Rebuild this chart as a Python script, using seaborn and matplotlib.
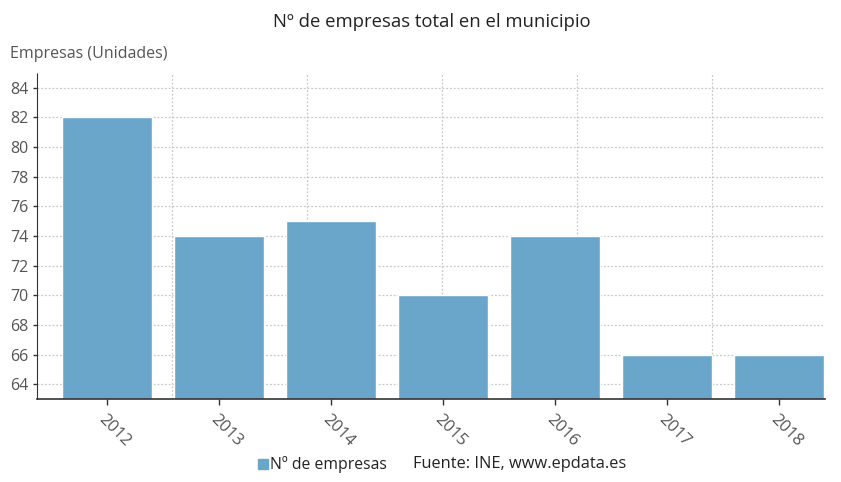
import numpy as np
import pandas as pd
import matplotlib.pyplot as plt
from matplotlib.patches import Rectangle
import seaborn as sns

sns.set_style("white")
plt.rcParams['font.family'] = ['Open Sans', 'DejaVu Sans']

years = ["2012", "2013", "2014", "2015", "2016", "2017", "2018"]
empresas = [82, 74, 75, 70, 74, 66, 66]
y_ticks = [64, 66, 68, 70, 72, 74, 76, 78, 80, 82, 84]

df = pd.DataFrame({"year": years, "empresas": empresas})

bar_color = "#6aa6ca"
text_color = "#555555"

fig = plt.figure(figsize=(8.41, 4.82), dpi=100)
ax = fig.add_axes([0.044, 0.172, 0.937, 0.677])

sns.barplot(data=df, x="year", y="empresas", color=bar_color, width=0.8,
            saturation=1, ax=ax, zorder=2)

ax.set_ylim(63, 85)
ax.set_xlim(-0.625, 6.41)
ax.set_yticks(y_ticks)
ax.set_xlabel("")
ax.set_ylabel("")

# grid: dotted light gray
ax.grid(axis="y", linestyle=(0, (1.5, 1.5)), color="#c8c8c8", linewidth=0.9, zorder=0)
ax.set_xticks(np.arange(-0.625 + 1.205, 6.41, 1.205), minor=True)
ax.grid(axis="x", which="minor", linestyle=(0, (1.5, 1.5)), color="#c8c8c8",
        linewidth=0.9, zorder=0)
ax.tick_params(axis="x", which="minor", length=0)
ax.set_axisbelow(True)

for s in ["top", "right"]:
    ax.spines[s].set_visible(False)
ax.spines["left"].set_linestyle((0, (1, 1)))
ax.spines["left"].set_color("#333333")
ax.spines["bottom"].set_color("#333333")
ax.spines["bottom"].set_linewidth(1.2)

ax.tick_params(axis="x", which="major", length=4, width=1, color="#333333",
               labelsize=12, labelcolor=text_color, pad=5, direction="out")
ax.tick_params(axis="y", length=3, width=1, color="#333333", labelsize=11.5,
               labelcolor=text_color, pad=3)
ax.tick_params(bottom=True, left=True)
for lab in ax.get_xticklabels():
    lab.set_rotation(-45)
    lab.set_ha("left")
    lab.set_va("top")
    lab.set_rotation_mode("anchor")
    lab.set_x(lab.get_position()[0])

fig.text(0.513, 0.955, "Nº de empresas total en el municipio", ha="center",
         va="center", fontsize=13.3, color="#222222")
fig.text(0.012, 0.889, "Empresas (Unidades)", ha="left", va="center",
         fontsize=11.5, color=text_color)

# legend + source
fig.patches.append(Rectangle((0.307, 0.027), 0.0115, 0.021, transform=fig.transFigure,
                             color=bar_color, figure=fig))
fig.text(0.321, 0.037, "Nº de empresas", ha="left", va="center", fontsize=11.3,
         color="#222222")
fig.text(0.491, 0.037, "Fuente: INE, www.epdata.es", ha="left", va="center",
         fontsize=11.8, color="#222222")

fig.savefig("out.png", dpi=100)
